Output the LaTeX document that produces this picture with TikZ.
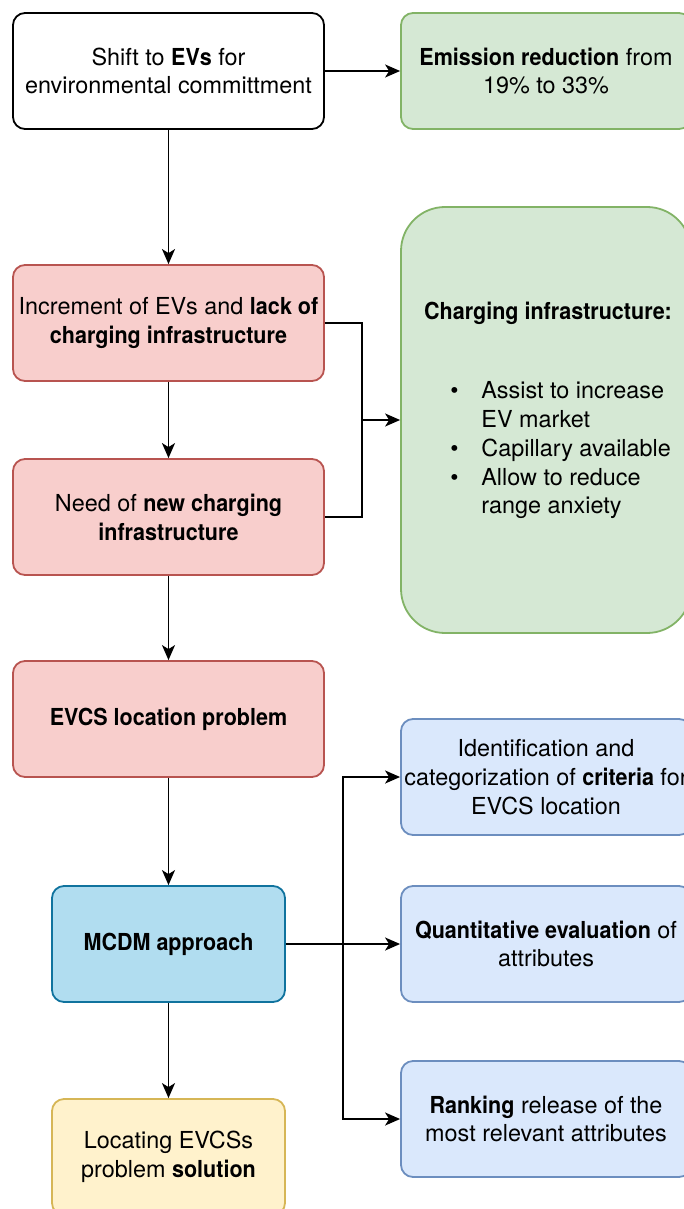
\documentclass[tikz,border=0pt]{standalone}
\usepackage{fontspec}
\setmainfont{TeX Gyre Heros}[BoldFeatures={FakeStretch=0.92}]
\usetikzlibrary{arrows.meta}
\definecolor{greenfill}{HTML}{D5E8D4}
\definecolor{greenline}{HTML}{82B366}
\definecolor{redfill}{HTML}{F8CECC}
\definecolor{redline}{HTML}{B85450}
\definecolor{tealfill}{HTML}{B1DDF0}
\definecolor{tealline}{HTML}{10739E}
\definecolor{yellowfill}{HTML}{FFF2CC}
\definecolor{yellowline}{HTML}{D6B656}
\definecolor{bluefill}{HTML}{DAE8FC}
\definecolor{blueline}{HTML}{6C8EBF}
\begin{document}
\begin{tikzpicture}[
            x=0.5pt, y=-0.5pt,
            every node/.style = {font=\fontsize{11.7pt}{14.4pt}\selectfont},
            box/.style = {shape=rectangle, rounded corners=6pt, draw, line width=0.9pt, align=center, inner sep=0pt, minimum width=155.5pt, minimum height=58pt},
            plainbox/.style = {box, fill=white, draw=black},
            greenbox/.style = {box, fill=greenfill, draw=greenline, minimum width=145pt},
            redbox/.style = {box, fill=redfill, draw=redline},
            tealbox/.style = {box, fill=tealfill, draw=tealline, minimum width=116.5pt},
            yellowbox/.style = {box, fill=yellowfill, draw=yellowline, minimum width=116.5pt},
            bluebox/.style = {box, fill=bluefill, draw=blueline, minimum width=145pt},
            wire/.style = {line width=0.9pt},
            arrow/.style = {wire, -{Stealth[length=7.5pt, width=6.5pt, inset=2pt]}}
        ]
        \clip (0,0) rectangle (684,1209);
        \node[plainbox] (shift) at (168.5,71) {Shift to \textbf{EVs} for\\environmental committment};
        \node[greenbox] (emission) at (546,71) {\textbf{Emission reduction} from\\19\% to 33\%};
        \node[redbox] (increment) at (168.5,323) {Increment of EVs and \textbf{lack of}\\\textbf{charging infrastructure}};
        \node[redbox] (need) at (168.5,517) {Need of \textbf{new charging}\\\textbf{infrastructure}};
        \node[redbox] (evcs) at (168.5,719) {\textbf{EVCS location problem}};
        \node[tealbox] (mcdm) at (168.5,944) {\textbf{MCDM approach}};
        \node[yellowbox] (locating) at (168.5,1157) {Locating EVCSs\\problem \textbf{solution}};
        \node[greenbox, rounded corners=22pt, minimum height=213pt] (charge) at (546,420) {};
        \node (chargetitle) at (548,313) {\textbf{Charging infrastructure:}};
        \node[anchor=west, inner sep=0pt] (chargelist) at (450,450.5) {%
            \begin{tabular}{@{}p{15.5pt}@{}l@{}}
                \textbullet & Assist to increase\\
                & EV market\\
                \textbullet & Capillary available\\
                \textbullet & Allow to reduce\\
                & range anxiety
            \end{tabular}};
        \node[bluebox] (criteria) at (546,777) {Identification and\\categorization of \textbf{criteria} for\\EVCS location};
        \node[bluebox] (quant) at (546,944) {\textbf{Quantitative evaluation} of\\attributes};
        \node[bluebox] (rank) at (546,1119) {\textbf{Ranking} release of the\\most relevant attributes};
        \draw[arrow] (shift) -- (emission);
        \draw[arrow] (shift) -- (increment);
        \draw[arrow] (increment) -- (need);
        \draw[arrow] (need) -- (evcs);
        \draw[arrow] (evcs) -- (mcdm);
        \draw[arrow] (mcdm) -- (locating);
        \coordinate (join) at (362,420);
        \draw[wire] (increment.east) -| (join);
        \draw[wire] (need.east) -| (join);
        \draw[arrow] (join) -- (charge);
        \draw[arrow] (mcdm) -- (quant);
        \coordinate (split) at (343,944);
        \draw[arrow] (split) |- (criteria);
        \draw[arrow] (split) |- (rank);
\end{tikzpicture}
\end{document}
